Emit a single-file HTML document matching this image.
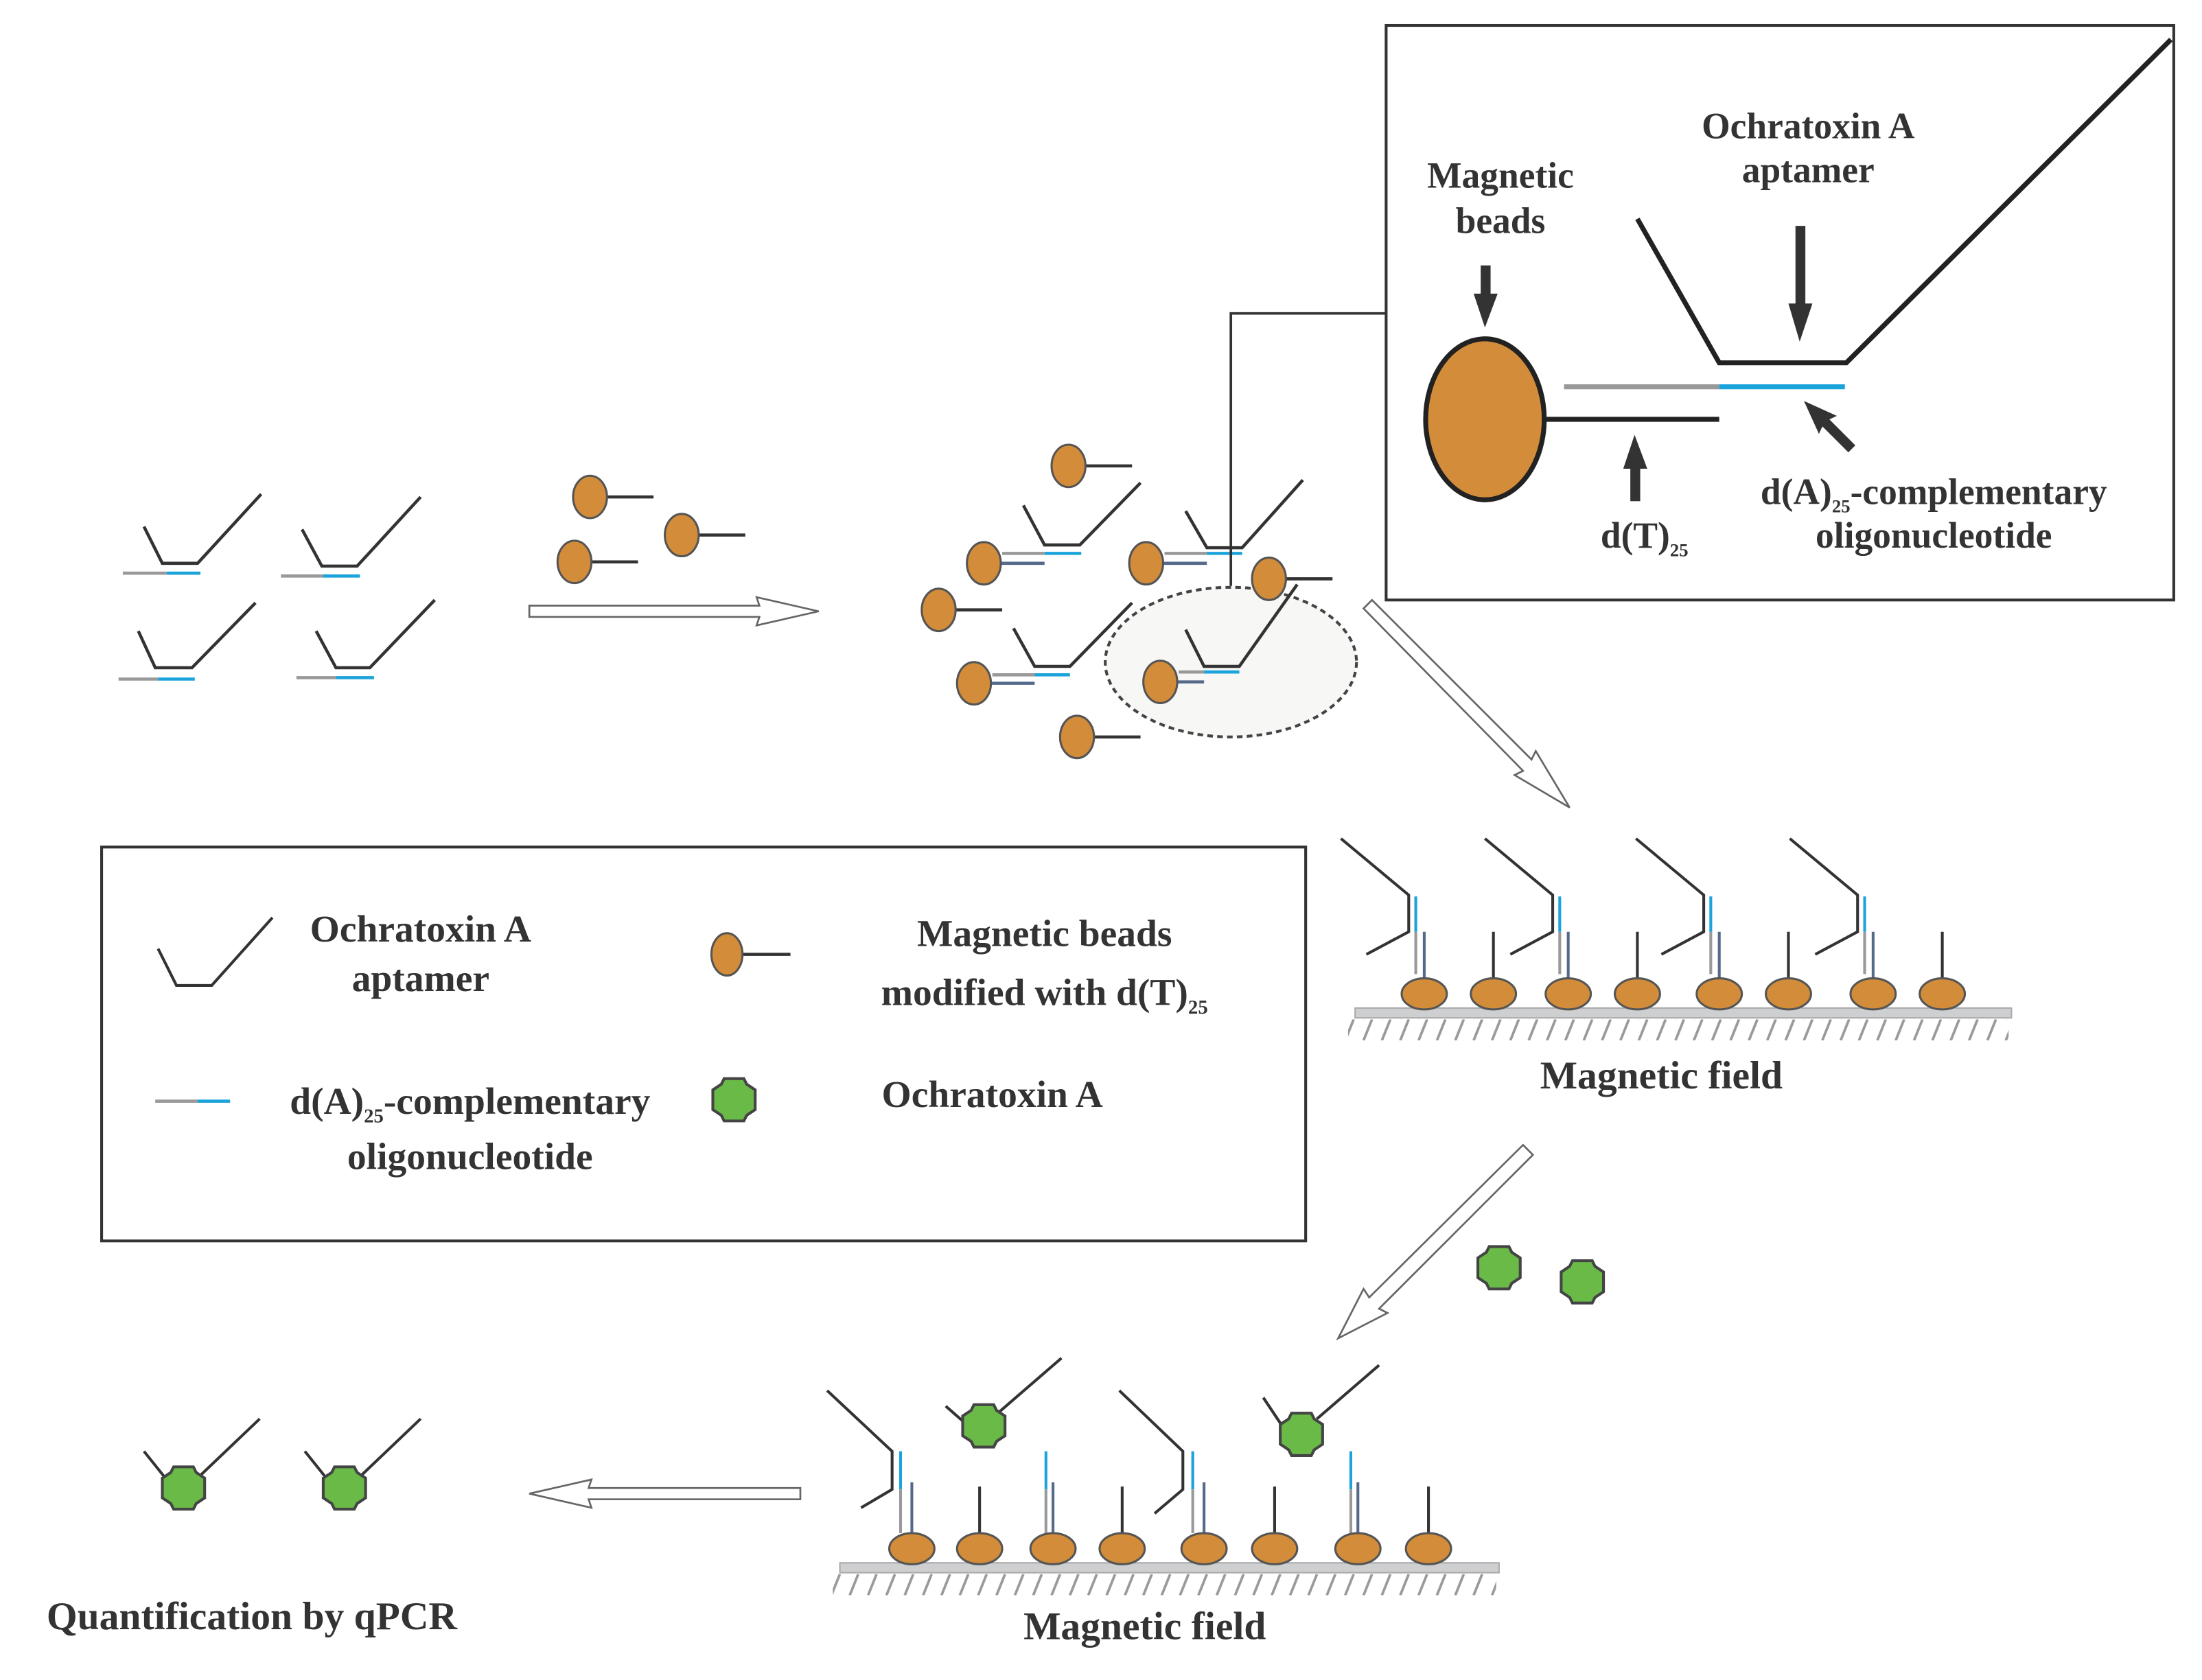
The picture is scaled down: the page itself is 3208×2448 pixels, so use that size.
<!DOCTYPE html>
<html><head><meta charset="utf-8"><style>html,body{margin:0;padding:0;background:#fff}svg{display:block}svg text{font-family:"Liberation Serif","DejaVu Serif",serif;font-weight:bold}</style></head>
<body>
<svg width="3208" height="2448" viewBox="0 0 1560 1190" preserveAspectRatio="none" xmlns="http://www.w3.org/2000/svg" fill="#333">
<defs>
<pattern id="hatch1" x="0" y="722" width="13" height="15" patternUnits="userSpaceOnUse"><line x1="10" y1="0" x2="4" y2="15" stroke="#999" stroke-width="1.8"/></pattern>
<pattern id="hatch2" x="0" y="1115" width="13" height="15" patternUnits="userSpaceOnUse"><line x1="10" y1="0" x2="4" y2="15" stroke="#999" stroke-width="1.8"/></pattern>
<g id="oct"><polygon points="-7,-15 7,-15 9,-11 15,-7 15,7 9,11 7,15 -7,15 -9,11 -15,7 -15,-7 -9,-11" fill="#6aba48" stroke="#444" stroke-width="2"/></g>
</defs>
<g stroke-linecap="butt" fill="none" stroke-width="2.2">
<g stroke="#333"><polyline points="102,373 115,399 140,399 185,350"/><polyline points="214,375 228,401 253,401 298,352"/><polyline points="98,447 110,473 136,473 181,427"/><polyline points="224,447 238,473 262,473 308,425"/></g>
<g stroke="#999"><line x1="87" y1="406" x2="118" y2="406"/><line x1="199" y1="408" x2="229" y2="408"/><line x1="84" y1="481" x2="112" y2="481"/><line x1="210" y1="480" x2="238" y2="480"/></g>
<g stroke="#1ba3dc"><line x1="118" y1="406" x2="142" y2="406"/><line x1="229" y1="408" x2="255" y2="408"/><line x1="112" y1="481" x2="138" y2="481"/><line x1="238" y1="480" x2="265" y2="480"/></g>
<g stroke="#333"><line x1="418" y1="352" x2="463" y2="352"/><line x1="483" y1="379" x2="528" y2="379"/><line x1="407" y1="398" x2="452" y2="398"/>
<line x1="757" y1="330" x2="802" y2="330"/><line x1="665" y1="432" x2="710" y2="432"/><line x1="763" y1="522" x2="808" y2="522"/><line x1="899" y1="410" x2="944" y2="410"/></g>
<ellipse cx="872" cy="469" rx="89" ry="53" fill="#f7f7f6" stroke="#444" stroke-width="2" stroke-dasharray="4,3"/>
<g stroke="#333"><polyline points="725,358 740,386 765,386 808,342"/><polyline points="840,362 855,388 880,388 923,340"/><polyline points="718,445 733,472 758,472 802,427"/><polyline points="840,446 853,472 878,472 919,414"/></g>
<g stroke="#999"><line x1="710" y1="392" x2="740" y2="392"/><line x1="825" y1="392" x2="855" y2="392"/><line x1="703" y1="478" x2="733" y2="478"/><line x1="835" y1="476" x2="853" y2="476"/></g>
<g stroke="#1ba3dc"><line x1="740" y1="392" x2="766" y2="392"/><line x1="855" y1="392" x2="880" y2="392"/><line x1="733" y1="478" x2="758" y2="478"/><line x1="853" y1="476" x2="878" y2="476"/></g>
<g stroke="#556a8a"><line x1="708" y1="399" x2="740" y2="399"/><line x1="823" y1="399" x2="855" y2="399"/><line x1="701" y1="484" x2="733" y2="484"/><line x1="833" y1="483" x2="853" y2="483"/></g>
<polyline points="872,415 872,222 982,222" stroke="#333" stroke-width="1.8"/>
</g>
<g fill="#d38d3a" stroke="#555" stroke-width="1.5">
<ellipse cx="418" cy="352" rx="12" ry="15"/><ellipse cx="483" cy="379" rx="12" ry="15"/><ellipse cx="407" cy="398" rx="12" ry="15"/>
<ellipse cx="757" cy="330" rx="12" ry="15"/><ellipse cx="697" cy="399" rx="12" ry="15"/><ellipse cx="665" cy="432" rx="12" ry="15"/><ellipse cx="690" cy="484" rx="12" ry="15"/><ellipse cx="763" cy="522" rx="12" ry="15"/><ellipse cx="812" cy="399" rx="12" ry="15"/><ellipse cx="899" cy="410" rx="12" ry="15"/><ellipse cx="822" cy="483" rx="12" ry="15"/>
</g>
<rect x="982" y="18" width="558" height="407" fill="none" stroke="#333" stroke-width="2"/>
<g fill="none" stroke-width="3.5">
<polyline points="1160,155 1218,257 1308,257 1538,28" stroke="#222"/>
<line x1="1108" y1="274" x2="1218" y2="274" stroke="#999"/><line x1="1218" y1="274" x2="1307" y2="274" stroke="#1ba3dc"/>
<line x1="1095" y1="297" x2="1218" y2="297" stroke="#222"/>
</g>
<ellipse cx="1052" cy="297" rx="42" ry="57" fill="#d38d3a" stroke="#222" stroke-width="3.5"/>
<g fill="#333">
<rect x="1049" y="188" width="7" height="22"/><polygon points="1044,208 1061,208 1052,232"/>
<rect x="1272" y="160" width="7" height="58"/><polygon points="1267,215 1284,215 1275,242"/>
<rect x="1155" y="330" width="7" height="25"/><polygon points="1150,332 1167,332 1158,308"/>
<polygon transform="translate(1278,284) rotate(-45)" points="0,0 9,24 3.5,22 3.5,48 -3.5,48 -3.5,22 -9,24"/>
</g>
<g font-size="26" text-anchor="middle">
<text x="1063" y="133">Magnetic</text><text x="1063" y="165">beads</text>
<text x="1281" y="98">Ochratoxin A</text><text x="1281" y="129">aptamer</text>
<text x="1370" y="357">d(A)<tspan font-size="13" dy="6">25</tspan><tspan dy="-6">-complementary</tspan></text><text x="1370" y="388">oligonucleotide</text>
<text x="1165" y="388">d(T)<tspan font-size="13" dy="6">25</tspan></text>
</g>
<g fill="#fff" stroke="#666" stroke-width="1.3">
<polygon points="375,429 538,429 536,423 580,433 536,443 538,437 375,437"/>
<polygon points="972,425 1085,538 1088,532 1112,572 1073,549 1079,546 966,431"/>
<polygon points="1086,818 977,927 983,930 948,948 966,913 970,919 1079,811"/>
<polygon points="567,1054 417,1054 419,1048 375,1058 419,1068 417,1062 567,1062"/>
</g>
<rect x="72" y="600" width="853" height="279" fill="none" stroke="#333" stroke-width="2"/>
<polyline points="112,672 125,698 150,698 193,650" fill="none" stroke="#333" stroke-width="2"/>
<line x1="515" y1="676" x2="560" y2="676" stroke="#333" stroke-width="2.2"/>
<ellipse cx="515" cy="676" rx="11" ry="15" fill="#d38d3a" stroke="#555" stroke-width="1.5"/>
<line x1="110" y1="780" x2="140" y2="780" stroke="#999" stroke-width="2.2"/><line x1="140" y1="780" x2="163" y2="780" stroke="#1ba3dc" stroke-width="2.2"/>
<use href="#oct" x="520" y="779"/>
<g font-size="27" text-anchor="middle">
<text x="298" y="667">Ochratoxin A</text><text x="298" y="702">aptamer</text>
<text x="740" y="670">Magnetic beads</text><text x="740" y="712">modified with d(T)<tspan font-size="14" dy="6">25</tspan></text>
<text x="333" y="789">d(A)<tspan font-size="14" dy="6">25</tspan><tspan dy="-6">-complementary</tspan></text><text x="333" y="828">oligonucleotide</text>
<text x="703" y="784">Ochratoxin A</text>
</g>
<rect x="960" y="714" width="465" height="7" fill="#cdcfd1" stroke="#aaa"/>
<rect x="955" y="722" width="468" height="15" fill="url(#hatch1)"/>
<g fill="none" stroke-width="2">
<g stroke="#333">
<polyline points="950,594 998,634 998,660 968,676"/><polyline points="1052,594 1100,634 1100,660 1070,676"/><polyline points="1159,594 1207,634 1207,660 1177,676"/><polyline points="1268,594 1316,634 1316,660 1286,676"/>
<line x1="1058" y1="660" x2="1058" y2="693"/><line x1="1160" y1="660" x2="1160" y2="693"/><line x1="1267" y1="660" x2="1267" y2="693"/><line x1="1376" y1="660" x2="1376" y2="693"/>
</g>
<g stroke="#1ba3dc"><line x1="1003" y1="635" x2="1003" y2="660"/><line x1="1105" y1="635" x2="1105" y2="660"/><line x1="1212" y1="635" x2="1212" y2="660"/><line x1="1321" y1="635" x2="1321" y2="660"/></g>
<g stroke="#999"><line x1="1003" y1="660" x2="1003" y2="690"/><line x1="1105" y1="660" x2="1105" y2="690"/><line x1="1212" y1="660" x2="1212" y2="690"/><line x1="1321" y1="660" x2="1321" y2="690"/></g>
<g stroke="#556a8a"><line x1="1009" y1="660" x2="1009" y2="693"/><line x1="1111" y1="660" x2="1111" y2="693"/><line x1="1218" y1="660" x2="1218" y2="693"/><line x1="1327" y1="660" x2="1327" y2="693"/></g>
</g>
<g fill="#d38d3a" stroke="#555" stroke-width="1.5">
<ellipse cx="1009" cy="704" rx="16" ry="11"/><ellipse cx="1058" cy="704" rx="16" ry="11"/><ellipse cx="1111" cy="704" rx="16" ry="11"/><ellipse cx="1160" cy="704" rx="16" ry="11"/><ellipse cx="1218" cy="704" rx="16" ry="11"/><ellipse cx="1267" cy="704" rx="16" ry="11"/><ellipse cx="1327" cy="704" rx="16" ry="11"/><ellipse cx="1376" cy="704" rx="16" ry="11"/>
</g>
<text x="1177" y="771" font-size="28" text-anchor="middle">Magnetic field</text>
<use href="#oct" x="1062" y="898"/><use href="#oct" x="1121" y="908"/>
<rect x="595" y="1107" width="467" height="7" fill="#cdcfd1" stroke="#aaa"/>
<rect x="590" y="1115" width="470" height="15" fill="url(#hatch2)"/>
<g fill="none" stroke-width="2">
<g stroke="#333">
<polyline points="586,985 632,1028 632,1055 610,1068"/><polyline points="793,985 838,1028 838,1055 818,1072"/>
<polyline points="670,996 686,1010"/><polyline points="708,1000 752,962"/>
<polyline points="895,990 911,1014"/><polyline points="933,1005 977,967"/>
<line x1="694" y1="1053" x2="694" y2="1086"/><line x1="795" y1="1053" x2="795" y2="1086"/><line x1="903" y1="1053" x2="903" y2="1086"/><line x1="1012" y1="1053" x2="1012" y2="1086"/>
<polyline points="102,1028 118,1048"/><polyline points="142,1045 184,1005"/>
<polyline points="216,1028 232,1048"/><polyline points="256,1045 298,1005"/>
</g>
<g stroke="#1ba3dc"><line x1="638" y1="1028" x2="638" y2="1055"/><line x1="741" y1="1028" x2="741" y2="1055"/><line x1="845" y1="1028" x2="845" y2="1055"/><line x1="957" y1="1028" x2="957" y2="1055"/></g>
<g stroke="#999"><line x1="638" y1="1055" x2="638" y2="1086"/><line x1="741" y1="1055" x2="741" y2="1086"/><line x1="845" y1="1055" x2="845" y2="1086"/><line x1="957" y1="1055" x2="957" y2="1086"/></g>
<g stroke="#556a8a"><line x1="646" y1="1050" x2="646" y2="1087"/><line x1="746" y1="1050" x2="746" y2="1087"/><line x1="853" y1="1050" x2="853" y2="1087"/><line x1="962" y1="1050" x2="962" y2="1087"/></g>
</g>
<g fill="#d38d3a" stroke="#555" stroke-width="1.5">
<ellipse cx="646" cy="1097" rx="16" ry="11"/><ellipse cx="694" cy="1097" rx="16" ry="11"/><ellipse cx="746" cy="1097" rx="16" ry="11"/><ellipse cx="795" cy="1097" rx="16" ry="11"/><ellipse cx="853" cy="1097" rx="16" ry="11"/><ellipse cx="903" cy="1097" rx="16" ry="11"/><ellipse cx="962" cy="1097" rx="16" ry="11"/><ellipse cx="1012" cy="1097" rx="16" ry="11"/>
</g>
<use href="#oct" x="697" y="1010"/><use href="#oct" x="922" y="1016"/>
<use href="#oct" x="130" y="1054"/><use href="#oct" x="244" y="1054"/>
<text x="811" y="1161" font-size="28" text-anchor="middle">Magnetic field</text>
<text x="33" y="1154" font-size="28">Quantification by qPCR</text>
</svg>
</body></html>
